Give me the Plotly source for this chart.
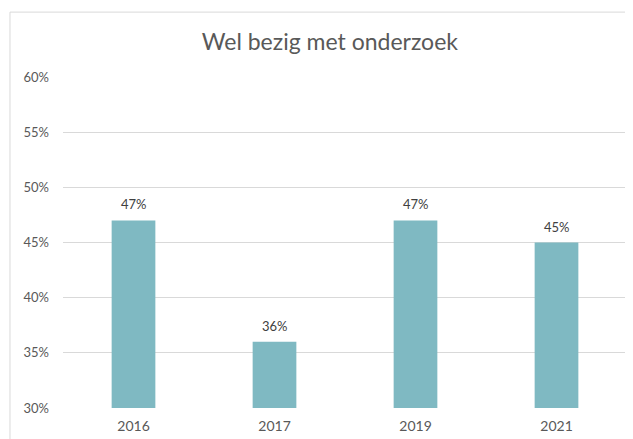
import plotly.graph_objects as go

years = ["2016", "2017", "2019", "2021"]
values = [0.47, 0.36, 0.47, 0.45]
labels = ["47%", "36%", "47%", "45%"]
tick_vals = [0.30, 0.35, 0.40, 0.45, 0.50, 0.55, 0.60]
tick_text = ["30%", "35%", "40%", "45%", "50%", "55%", "60%"]

fig = go.Figure(go.Bar(
    x=years, y=values,
    marker=dict(color="#7FB9C2", line=dict(width=0)),
    width=0.31,
))

# value labels placed on the category positions of the bars
for i, (yv, lab) in enumerate(zip(values, labels)):
    fig.add_annotation(x=i, y=yv, text=lab, showarrow=False,
                       yanchor="bottom", yshift=6,
                       font=dict(size=13, color="#404040", family="Lato"))

fig.update_layout(
    width=625, height=431,
    margin=dict(l=55, r=6, t=69, b=31),
    paper_bgcolor="white", plot_bgcolor="white",
    font=dict(family="Lato", color="#595959"),
    title=dict(text="Wel bezig met onderzoek", x=0.515, xanchor="center",
               y=0.921, yanchor="middle",
               font=dict(size=23, color="#595959", family="Lato")),
    showlegend=False,
    xaxis=dict(type="category", categoryorder="array", categoryarray=years,
               range=[-0.5, len(years) - 0.5],
               showgrid=False, showline=False, ticks="",
               tickfont=dict(size=14, color="#595959"), ticklabelstandoff=8),
    yaxis=dict(range=[0.30, 0.60], tickvals=tick_vals, ticktext=tick_text,
               showgrid=True, gridcolor="#D9D9D9", gridwidth=1,
               zeroline=False, showline=False, ticks="",
               tickfont=dict(size=13, color="#595959"), ticklabelstandoff=13),
    shapes=[dict(type="rect", xref="paper", yref="paper",
                 x0=-0.094, x1=1.006, y0=-0.2, y1=1.196,
                 line=dict(color="#D9D9D9", width=1), fillcolor="rgba(0,0,0,0)",
                 layer="below")],
)

fig.write_html("out.html")
